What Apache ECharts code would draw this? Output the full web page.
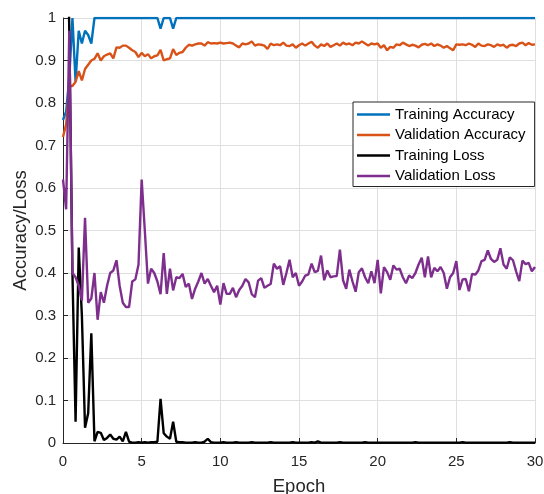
<!DOCTYPE html>
<html>
<head>
<meta charset="utf-8">
<script src="https://cdn.jsdelivr.net/npm/echarts@6/dist/echarts.min.js"></script>
<style>
  html, body { margin: 0; padding: 0; background: #fff; }
  #main { width: 544px; height: 494px; }
</style>
</head>
<body>
<div id="main"></div>
<script>
  // one sample every 0.2 epoch, epoch 0 .. 30
  var epochStep = 0.2;
  var xTicks = [0, 5, 10, 15, 20, 25, 30];
  var yTicks = [0, 0.1, 0.2, 0.3, 0.4, 0.5, 0.6, 0.7, 0.8, 0.9, 1];
  var seriesNames = ['Training Accuracy', 'Validation Accuracy', 'Training Loss', 'Validation Loss'];

  var trainAcc = [
    0.76, 0.78, 0.86, 1.0, 0.85, 0.97, 0.94, 0.97, 0.96, 0.94,
    1, 1, 1, 1, 1, 1, 1, 1, 1, 1,
    1, 1, 1, 1, 1, 1, 1, 1, 1, 1,
    1, 0.975, 1, 1, 1, 0.975, 1, 1, 1, 1,
    1, 1, 1, 1, 1, 1, 1, 1, 1, 1,
    1, 1, 1, 1, 1, 1, 1, 1, 1, 1,
    1, 1, 1, 1, 1, 1, 1, 1, 1, 1,
    1, 1, 1, 1, 1, 1, 1, 1, 1, 1,
    1, 1, 1, 1, 1, 1, 1, 1, 1, 1,
    1, 1, 1, 1, 1, 1, 1, 1, 1, 1,
    1, 1, 1, 1, 1, 1, 1, 1, 1, 1,
    1, 1, 1, 1, 1, 1, 1, 1, 1, 1,
    1, 1, 1, 1, 1, 1, 1, 1, 1, 1,
    1, 1, 1, 1, 1, 1, 1, 1, 1, 1,
    1, 1, 1, 1, 1, 1, 1, 1, 1, 1,
    1
  ];

  var valAcc = [
    0.72, 0.75, 0.84, 0.84, 0.85, 0.875, 0.853, 0.88, 0.89, 0.90,
    0.904, 0.917, 0.90, 0.91, 0.914, 0.917, 0.905, 0.931, 0.93, 0.935,
    0.935, 0.93, 0.924, 0.92, 0.908, 0.918, 0.91, 0.915, 0.905, 0.91,
    0.912, 0.925, 0.90, 0.903, 0.905, 0.927, 0.913, 0.918, 0.92, 0.93,
    0.937, 0.935, 0.938, 0.94, 0.94, 0.935, 0.943, 0.94, 0.941, 0.94,
    0.942, 0.94, 0.941, 0.942, 0.94, 0.935, 0.931, 0.94, 0.938, 0.94,
    0.945, 0.935, 0.938, 0.937, 0.935, 0.927, 0.94, 0.936, 0.938, 0.936,
    0.942, 0.935, 0.934, 0.938, 0.93, 0.936, 0.94, 0.935, 0.94, 0.944,
    0.935, 0.93, 0.938, 0.934, 0.94, 0.932, 0.936, 0.94, 0.935, 0.942,
    0.938, 0.94, 0.936, 0.942, 0.94, 0.945, 0.94, 0.935, 0.94, 0.938,
    0.94, 0.93, 0.936, 0.924, 0.932, 0.93, 0.938, 0.936, 0.942, 0.938,
    0.934, 0.937, 0.935, 0.931, 0.937, 0.939, 0.936, 0.94, 0.934, 0.938,
    0.935, 0.93, 0.934, 0.929, 0.924, 0.938, 0.937, 0.938, 0.936, 0.94,
    0.937, 0.932, 0.94, 0.935, 0.934, 0.938, 0.936, 0.932, 0.938, 0.935,
    0.937, 0.93, 0.936, 0.937, 0.934, 0.94, 0.942, 0.936, 0.941, 0.937,
    0.938
  ];

  var trainLoss = [
    1.4, 1.4, 0.97, 0.40, 0.05, 0.46, 0.30, 0.036, 0.07, 0.258,
    0.004, 0.026, 0.024, 0.007, 0.012, 0.02, 0.01, 0.008, 0.015, 0.004,
    0.026, 0.003, 0.001, 0.001, 0.002, 0.001, 0.002, 0.001, 0.002, 0.002,
    0.003, 0.104, 0.023, 0.015, 0.01, 0.05, 0.003, 0.002, 0.002, 0.001,
    0.001, 0.001, 0.002, 0.001, 0.001, 0.003, 0.01, 0.002, 0.001, 0.001,
    0.001, 0.002, 0.001, 0.001, 0.001, 0.002, 0.001, 0.001, 0.001, 0.001,
    0.002, 0.001, 0.001, 0.001, 0.001, 0.001, 0.002, 0.001, 0.001, 0.001,
    0.001, 0.001, 0.001, 0.002, 0.001, 0.001, 0.001, 0.001, 0.001, 0.002,
    0.001, 0.004, 0.001, 0.001, 0.001, 0.001, 0.001, 0.001, 0.002, 0.001,
    0.001, 0.001, 0.001, 0.001, 0.001, 0.001, 0.002, 0.001, 0.001, 0.001,
    0.001, 0.001, 0.001, 0.001, 0.001, 0.001, 0.001, 0.001, 0.001, 0.001,
    0.001, 0.001, 0.002, 0.001, 0.001, 0.001, 0.001, 0.001, 0.001, 0.001,
    0.001, 0.001, 0.001, 0.001, 0.001, 0.001, 0.001, 0.002, 0.001, 0.001,
    0.001, 0.001, 0.001, 0.001, 0.001, 0.001, 0.001, 0.001, 0.001, 0.001,
    0.001, 0.001, 0.002, 0.001, 0.001, 0.001, 0.001, 0.001, 0.001, 0.001,
    0.001
  ];

  var valLoss = [
    0.62, 0.55, 0.97, 0.40, 0.39, 0.37, 0.335, 0.53, 0.33, 0.34,
    0.40, 0.29, 0.355, 0.33, 0.37, 0.40, 0.406, 0.43, 0.37, 0.33,
    0.32, 0.32, 0.38, 0.385, 0.42, 0.62, 0.50, 0.375, 0.41, 0.40,
    0.38, 0.35, 0.447, 0.351, 0.41, 0.359, 0.39, 0.388, 0.398, 0.367,
    0.375, 0.339, 0.363, 0.38, 0.40, 0.375, 0.386, 0.37, 0.355, 0.37,
    0.326, 0.376, 0.351, 0.351, 0.365, 0.343, 0.36, 0.37, 0.386, 0.378,
    0.35, 0.343, 0.382, 0.388, 0.365, 0.37, 0.374, 0.422, 0.41, 0.416,
    0.372, 0.40, 0.431, 0.39, 0.40, 0.37, 0.38, 0.394, 0.397, 0.422,
    0.402, 0.405, 0.441, 0.383, 0.406, 0.39, 0.392, 0.393, 0.455, 0.383,
    0.363, 0.408, 0.38, 0.356, 0.402, 0.411, 0.39, 0.376, 0.404, 0.376,
    0.431, 0.352, 0.414, 0.402, 0.384, 0.418, 0.408, 0.41, 0.39, 0.376,
    0.394, 0.388, 0.40, 0.42, 0.436, 0.39, 0.439, 0.39, 0.412, 0.404,
    0.414, 0.40, 0.363, 0.39, 0.40, 0.428, 0.36, 0.385, 0.386, 0.357,
    0.398, 0.396, 0.406, 0.428, 0.431, 0.453, 0.433, 0.426, 0.431, 0.458,
    0.42, 0.41, 0.437, 0.43, 0.404, 0.381, 0.429, 0.421, 0.424, 0.404,
    0.414
  ];

  var colors = ['#0072BD', '#D95319', '#000000', '#7E2F8E'];

  function toPoints(arr) {
    return arr.map(function (v, i) { return [+(i * epochStep).toFixed(2), v]; });
  }

  var chart = echarts.init(document.getElementById('main'));
  var allData = [trainAcc, valAcc, trainLoss, valLoss];

  var option = {
    animation: false,
    color: colors,
    grid: { left: 63, right: 9, top: 18, bottom: 51, outerBoundsMode: 'none', containLabel: false },
    legend: {
      orient: 'vertical',
      left: 353,
      top: 102,
      data: seriesNames,
      icon: 'rect',
      itemWidth: 33,
      itemHeight: 2.5,
      itemGap: 3.5,
      padding: [4, 9, 2, 4],
      backgroundColor: '#fff',
      borderColor: '#262626',
      borderWidth: 1,
      borderRadius: 0,
      textStyle: { fontFamily: 'Liberation Sans', fontSize: 15, color: '#000', lineHeight: 17 }
    },
    xAxis: {
      type: 'value',
      min: xTicks[0],
      max: xTicks[xTicks.length - 1],
      interval: 5,
      name: 'Epoch',
      nameLocation: 'middle',
      nameGap: 34,
      nameMoveOverlap: false,
      nameTextStyle: { fontFamily: 'Liberation Sans', fontSize: 18.5, color: '#262626' },
      axisLine: { onZero: false, lineStyle: { color: '#262626', width: 1 } },
      axisTick: { inside: true, length: 5, lineStyle: { color: '#262626' } },
      axisLabel: { margin: 11, fontFamily: 'Liberation Sans', fontSize: 15, color: '#262626' },
      splitLine: { show: true, lineStyle: { color: '#dfdfdf', width: 1 } }
    },
    yAxis: {
      type: 'value',
      min: yTicks[0],
      max: yTicks[yTicks.length - 1],
      interval: 0.1,
      name: 'Accuracy/Loss',
      nameLocation: 'middle',
      nameGap: 33,
      nameMoveOverlap: false,
      nameTextStyle: { fontFamily: 'Liberation Sans', fontSize: 18.5, color: '#262626' },
      axisLine: { show: true, lineStyle: { color: '#262626', width: 1 } },
      axisTick: { show: true, inside: true, length: 5, lineStyle: { color: '#262626' } },
      axisLabel: { margin: 7, fontFamily: 'Liberation Sans', fontSize: 15, color: '#262626' },
      splitLine: { show: true, lineStyle: { color: '#dfdfdf', width: 1 } }
    },
    series: seriesNames.map(function (name, k) {
      return {
        name: name,
        type: 'line',
        showSymbol: false,
        clip: true,
        lineStyle: { width: 2.4, color: colors[k] },
        data: toPoints(allData[k])
      };
    })
  };
  chart.setOption(option);
</script>
</body>
</html>
